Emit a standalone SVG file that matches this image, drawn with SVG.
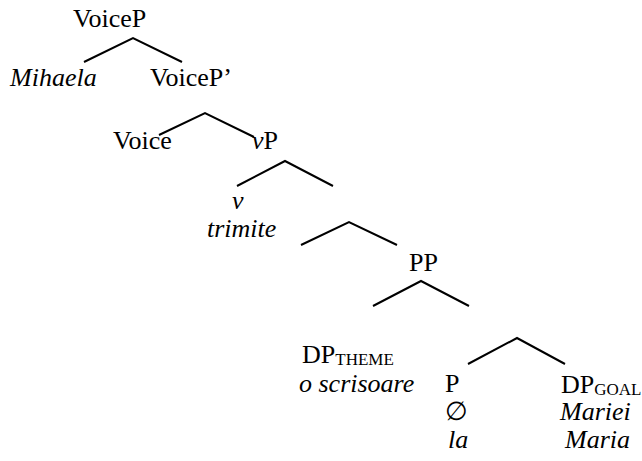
<svg xmlns="http://www.w3.org/2000/svg" width="642" height="461" viewBox="0 0 642 461" font-family="Liberation Serif" font-size="26">
<style>
text{font-family:'Liberation Serif','Times New Roman',serif;font-size:26px;fill:#000}
.i{font-style:italic}
.sub{font-size:17px}
.edge{stroke:#000;stroke-width:2;fill:none}
</style>
<rect width="642" height="461" fill="#fff"/>
<g id="connectors">
<polyline class="edge" points="84,62 133,38 182,62"/>
<polyline class="edge" points="159,135 205,113 254,137"/>
<polyline class="edge" points="237,186 285,161 333,186"/>
<polyline class="edge" points="301,245 349,222 397,245"/>
<polyline class="edge" points="373,306 421,281 469,306"/>
<polyline class="edge" points="468,364 517,338 565,364"/>
</g>
<g id="VoiceP"><text x="73" y="27">VoiceP</text></g>
<g id="Mihaela"><text class="i" font-style="italic" x="10" y="86">Mihaela</text></g>
<g id="VoiceP1"><text x="150" y="86">VoiceP’</text></g>
<g id="Voice"><text x="113" y="149">Voice</text></g>
<g id="vP"><text x="252" y="149"><tspan class="i" font-style="italic">v</tspan>P</text></g>
<g id="v"><text class="i" font-style="italic" x="232" y="209">v</text><text class="i" font-style="italic" x="207" y="237">trimite</text></g>
<g id="PP"><text x="409" y="271">PP</text></g>
<g id="DPtheme"><text x="302" y="363">DP<tspan class="sub" font-size="17" dy="2">THEME</tspan></text><text class="i" font-style="italic" x="299" y="392">o scrisoare</text></g>
<g id="P"><text x="445" y="392">P</text><text x="445" y="420">∅</text><text class="i" font-style="italic" x="448" y="448">la</text></g>
<g id="DPgoal"><text x="561" y="393">DP<tspan class="sub" font-size="17" dy="2">GOAL</tspan></text><text class="i" font-style="italic" x="560" y="420">Mariei</text><text class="i" font-style="italic" x="565" y="448">Maria</text></g>
</svg>
